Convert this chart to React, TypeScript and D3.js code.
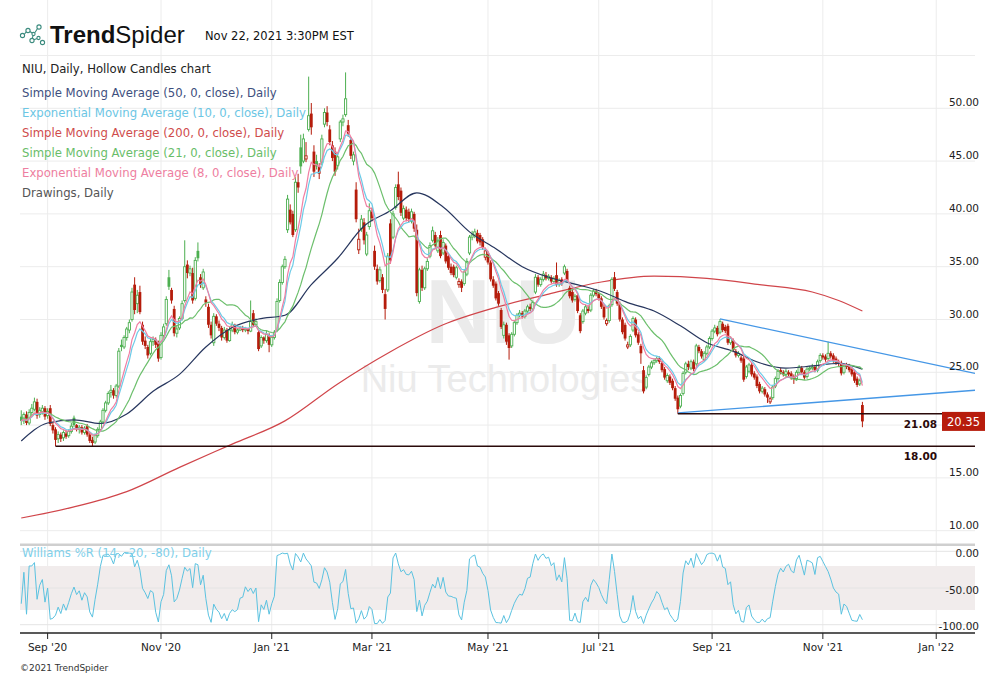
import React from "react";
import * as d3 from "d3";

// ---------- DATA ----------
const START_DATE = "2020-08-18";
const HOLIDAYS = ["2020-09-07","2020-11-26","2020-12-25","2021-01-01","2021-01-18","2021-02-15","2021-04-02","2021-05-31","2021-07-05","2021-09-06","2021-11-25","2021-12-24","2022-01-17"];

const opens = [
20.8,20.4,21.0,20.2,21.2,21.5,22.2,21.0,21.3,21.6,
20.9,21.6,20.0,19.6,18.7,19.1,18.8,19.2,19.0,19.4,
20.7,20.0,19.6,19.8,19.3,19.9,19.1,18.6,18.4,19.0,
19.6,20.3,21.4,22.1,23.1,23.3,22.8,23.7,27.6,27.4,
28.3,29.0,30.0,33.3,31.5,32.6,29.5,28.0,27.4,26.8,
27.9,28.1,27.8,26.4,28.5,29.6,34.0,32.8,31.0,28.7,
29.2,30.1,31.8,35.2,34.4,34.4,32.0,36.5,34.0,33.0,
31.9,31.2,29.5,27.8,30.3,29.6,29.2,28.3,29.0,28.0,
29.0,29.5,28.8,29.0,29.2,29.0,29.1,28.9,30.6,29.5,
28.8,27.5,28.3,28.0,28.5,27.6,28.3,29.0,31.8,33.5,
35.0,38.5,40.4,40.0,38.5,43.0,46.3,45.0,45.2,48.0,
49.5,45.9,45.0,44.5,44.9,48.5,49.6,48.0,46.5,45.9,
44.6,47.1,48.7,49.4,48.4,47.0,45.0,42.3,36.6,38.6,
39.2,36.2,38.8,40.2,36.5,34.8,33.7,34.0,32.4,32.8,
39.1,37.8,40.6,42.8,42.2,39.6,40.4,40.2,39.3,40.0,
38.5,31.7,34.7,33.0,34.8,36.0,37.5,38.0,36.5,38.0,
36.3,37.0,36.0,35.0,35.0,34.0,33.3,33.6,33.4,34.3,
36.3,37.8,38.0,38.2,38.0,37.6,35.9,36.2,35.4,33.8,
33.4,32.5,30.9,28.5,29.5,28.5,27.5,28.6,29.7,30.4,
30.6,30.3,30.8,31.2,31.0,32.6,34.0,33.3,33.8,34.2,
33.9,34.0,33.6,34.2,33.3,33.8,34.4,34.6,33.0,32.6,
31.9,32.3,30.4,29.8,30.6,31.0,30.9,32.3,32.7,32.4,
32.0,31.2,29.6,29.9,31.4,34.0,32.6,31.5,30.0,29.5,
27.4,27.6,29.0,30.0,28.6,27.5,25.2,23.6,24.8,25.5,
25.9,26.1,26.3,25.9,25.3,24.2,24.6,24.2,23.5,22.6,
21.8,23.0,25.0,25.8,25.4,26.0,25.8,27.4,27.0,26.2,
26.8,27.4,28.2,28.9,29.2,28.8,29.6,29.3,29.4,27.8,
28.0,27.0,26.6,26.4,26.3,24.6,25.1,25.7,24.9,24.6,
23.9,23.2,23.4,22.9,22.2,22.6,23.7,24.4,25.2,25.0,
24.8,25.0,24.9,24.6,24.4,25.0,25.4,25.0,24.6,25.3,
25.4,25.5,25.2,26.1,26.6,26.5,26.3,26.8,26.6,26.3,
26.0,25.9,25.0,25.7,25.6,25.3,25.0,24.4,23.9,21.9];

const highs = [
21.4,21.2,21.3,21.5,22.0,22.6,22.5,21.7,21.9,21.8,
21.6,21.9,20.3,19.8,19.4,19.3,19.5,19.5,19.6,20.2,
20.9,20.1,20.0,20.0,19.9,20.1,19.3,18.9,19.2,19.8,
20.5,21.6,22.3,23.2,23.8,23.5,23.9,27.3,28.1,28.5,
29.3,30.0,33.0,34.0,32.8,33.2,29.8,28.4,27.6,28.2,
28.4,28.3,28.0,28.8,29.6,32.2,34.7,33.0,31.3,29.4,
30.3,31.8,37.5,35.6,35.1,34.9,35.9,37.3,34.3,34.8,
32.2,31.5,29.8,30.6,30.5,29.9,29.4,29.3,29.2,29.3,
29.8,29.6,29.2,29.4,29.4,29.3,29.2,31.8,30.9,30.1,
29.0,28.5,28.4,28.9,28.7,28.5,29.0,32.0,33.8,35.2,
36.0,41.8,40.9,40.3,43.5,43.8,47.5,47.6,46.8,53.0,
50.5,46.5,45.6,44.8,47.5,50.0,50.2,48.4,46.9,46.3,
45.8,48.9,49.4,53.4,48.9,47.3,45.9,43.0,38.6,39.9,
39.6,38.3,41.0,40.6,37.0,35.2,35.0,34.3,32.9,36.3,
39.5,40.3,42.8,44.0,42.5,40.8,40.7,40.5,40.5,40.2,
39.0,34.9,35.1,35.0,35.8,37.3,38.8,38.3,37.8,38.4,
37.6,37.2,36.3,35.3,35.2,35.1,33.9,33.8,34.7,35.8,
38.0,38.4,38.6,38.5,38.2,37.8,36.8,36.4,35.6,34.1,
33.6,32.7,31.1,29.8,29.7,28.7,28.8,29.9,30.6,30.9,
30.8,31.0,31.4,31.5,31.8,34.3,34.2,34.0,34.6,34.5,
34.3,34.2,34.1,35.4,33.9,34.0,35.2,34.8,33.2,32.8,
32.4,32.5,30.6,31.0,31.4,31.3,32.5,32.9,32.9,32.6,
32.2,31.4,30.1,31.5,34.0,34.5,32.8,31.7,30.2,29.7,
27.9,28.6,30.3,30.2,28.8,27.7,25.6,24.7,25.7,26.1,
26.3,26.5,26.5,26.1,25.5,24.9,24.8,24.4,23.7,22.8,
23.0,25.1,26.0,26.1,26.2,26.2,27.7,27.6,27.2,27.0,
27.6,28.4,29.1,29.5,29.4,30.05,29.8,29.5,29.6,28.4,
28.2,27.2,27.0,26.6,26.5,25.7,25.9,25.9,25.1,24.8,
24.1,23.7,23.6,23.1,22.7,23.8,24.6,25.3,25.4,25.2,
25.3,25.2,25.1,24.8,25.2,25.7,25.6,25.2,25.5,25.6,
25.8,25.7,26.2,26.8,26.8,26.7,27.9,27.0,26.8,26.5,
26.2,26.1,25.8,25.9,25.8,25.5,25.2,24.6,24.4,22.2];

const lows = [
20.0,20.1,20.0,20.0,20.9,21.3,20.6,20.7,21.0,20.5,
20.6,19.9,19.2,18.0,18.3,18.4,18.5,18.7,18.8,19.2,
19.8,19.4,19.2,19.1,19.1,18.9,18.3,18.0,18.2,18.8,
19.4,20.1,21.2,21.9,22.6,22.5,22.6,23.5,27.0,27.2,
28.0,28.7,29.8,30.5,30.6,30.5,27.6,27.2,26.3,26.6,
27.5,27.3,26.0,26.2,28.2,29.4,32.8,31.5,28.4,28.3,
29.0,29.9,31.6,33.9,34.1,31.5,31.8,35.5,33.0,32.8,
31.2,29.2,28.2,27.5,29.4,28.9,28.0,28.1,27.8,27.9,
28.8,28.6,28.6,28.9,28.8,28.8,28.6,28.8,29.3,29.3,
27.0,27.3,27.7,27.8,26.9,27.4,28.1,28.8,31.6,33.3,
34.8,38.2,39.0,37.8,38.3,42.0,43.8,44.8,44.9,47.8,
47.5,43.5,44.2,43.3,44.6,48.2,48.3,46.5,45.0,43.6,
44.2,46.8,48.3,49.2,47.3,45.2,44.6,39.2,36.2,38.3,
37.1,36.0,38.5,39.3,34.7,33.3,33.5,32.5,30.0,32.6,
35.3,37.6,40.4,41.3,39.8,39.4,39.3,39.2,39.1,38.3,
32.2,31.5,32.7,32.8,34.6,35.8,37.3,36.8,36.3,35.8,
36.1,35.3,34.7,34.2,34.0,33.8,33.0,32.6,33.2,34.1,
36.1,37.5,37.7,37.2,37.0,36.6,35.6,35.2,33.6,33.0,
31.8,31.3,29.1,28.2,27.6,26.2,27.3,28.4,29.5,30.2,
30.1,30.1,30.6,30.8,30.8,32.4,33.1,33.1,33.6,33.7,
33.7,33.4,33.4,33.1,33.1,33.2,34.2,33.5,32.0,31.6,
31.7,30.6,28.7,29.6,30.4,30.6,30.7,32.1,32.2,31.8,
31.0,30.0,29.4,29.7,31.2,32.7,31.3,29.8,28.6,28.0,
27.2,27.4,28.8,28.3,27.6,25.8,23.0,23.4,24.6,25.3,
25.7,25.9,25.8,25.0,24.3,24.0,23.8,23.3,22.3,21.08,
21.6,22.8,24.8,25.2,25.2,25.1,25.6,26.8,26.3,26.0,
26.6,27.2,28.0,28.7,28.4,28.6,28.8,28.7,27.6,27.6,
26.9,26.4,26.4,25.9,24.1,24.4,24.9,24.6,24.3,23.5,
23.0,23.0,22.7,22.1,22.0,22.4,23.5,24.2,24.8,24.6,
24.6,24.6,24.3,23.9,24.2,24.8,24.8,24.3,24.4,25.1,
25.2,25.0,25.0,25.9,26.2,26.0,26.1,26.3,25.9,25.7,
25.6,24.7,24.8,25.3,25.0,24.6,24.0,23.6,23.7,19.8];

const closes = [
20.4,21.0,20.2,21.2,21.6,22.2,20.9,21.4,21.6,20.8,
21.3,20.1,19.5,18.6,19.1,18.7,19.3,18.9,19.4,19.9,
20.0,19.6,19.8,19.3,19.7,19.1,18.5,18.3,19.0,19.6,
20.3,21.4,22.1,23.0,23.3,22.8,23.7,27.0,27.4,28.3,
29.1,29.7,32.6,30.9,32.3,30.7,27.9,27.5,26.6,27.9,
28.1,27.6,26.3,28.5,29.3,31.9,33.1,31.8,28.7,29.1,
30.1,31.5,35.0,34.4,34.8,31.8,35.6,35.8,33.3,34.5,
31.6,29.5,28.5,30.3,29.6,29.2,28.3,29.0,28.0,29.0,
29.5,28.8,29.0,29.2,29.0,29.1,28.9,29.8,29.5,29.8,
27.2,28.3,28.0,28.6,27.6,28.3,28.8,31.7,33.5,35.0,
35.7,41.4,39.2,38.0,43.0,42.5,44.5,47.1,45.5,49.3,
48.2,44.0,44.5,43.8,47.1,49.6,48.7,46.8,45.3,44.0,
45.4,48.7,49.0,50.9,47.6,45.5,45.6,39.5,37.6,39.5,
37.5,38.0,40.3,39.6,35.0,33.6,34.7,32.8,31.0,36.0,
35.6,40.0,42.5,41.6,40.1,40.5,39.6,39.5,40.2,38.6,
32.5,34.7,33.0,34.8,35.5,37.0,38.4,37.0,37.5,36.0,
37.3,35.5,34.9,34.4,34.2,34.9,33.6,33.0,34.5,35.5,
37.8,38.0,38.3,37.4,37.3,36.8,36.5,35.4,33.8,33.2,
32.0,31.5,29.3,29.5,27.9,27.3,28.6,29.7,30.4,30.6,
30.3,30.8,31.2,31.0,31.6,34.0,33.3,33.8,34.3,33.9,
34.1,33.6,33.9,33.3,33.7,33.4,35.0,33.7,32.2,31.8,
32.2,30.8,28.9,30.8,31.2,30.8,32.3,32.7,32.4,32.0,
31.2,30.2,29.9,31.3,33.8,32.9,31.5,30.0,28.8,28.2,
27.6,28.4,30.1,28.5,27.8,26.8,23.2,24.5,25.5,25.9,
26.1,26.3,26.0,25.2,24.5,24.7,24.0,23.5,22.5,21.5,
22.8,24.9,25.8,25.5,26.0,25.3,27.5,27.0,26.5,26.8,
27.4,28.2,28.9,29.2,28.6,29.8,29.0,28.9,27.8,28.2,
27.1,26.6,26.8,26.1,24.3,25.5,25.7,24.8,24.5,23.7,
23.2,23.5,22.9,22.6,22.5,23.6,24.4,25.1,25.0,24.8,
25.1,24.8,24.5,24.4,25.0,25.5,25.0,24.5,25.3,25.4,
25.5,25.2,26.0,26.6,26.4,26.2,26.8,26.5,26.1,25.9,
25.8,24.9,25.6,25.5,25.2,24.8,24.2,23.8,24.2,20.35];

// 50-day and 200-day SMA (bar index -> value)
const sma50Bars = [0,10,20,30,40,50,60,70,80,90,100,110,120,130,140,150,160,170,180,190,200,210,220,230,240,250,260,270,280,290,300,310,319];
const sma50Values = [18.5,20.2,20.5,20.15,21.05,23.2,24.8,27.4,29.25,30.05,30.4,33.3,35.8,38.85,40.3,42.0,40.65,38.3,36.7,35.0,34.0,33.35,32.65,31.6,30.8,29.4,27.8,27.0,25.9,25.4,25.6,25.85,25.3];
const sma200Bars = [0,20,40,60,80,100,120,140,160,180,200,220,240,260,280,300,310,319];
const sma200Values = [11.2,12.25,13.7,16.0,18.2,20.4,23.9,26.95,29.5,31.15,32.4,33.55,34.1,33.9,33.3,32.6,31.8,30.8];

// drawings (bar index, price)
const upperTrendBars = [265, 361.7];
const upperTrendValues = [30.05, 24.9];
const lowerTrendBars = [249, 361.7];
const lowerTrendValues = [21.15, 23.3];
const hLineBars = [13, 249];
const hLineValues = [18.0, 21.08];
const hLineLabels = ["18.00", "21.08"];
const lastPriceLabel = "20.35";

const priceGrid = [10, 15, 20, 25, 30, 35, 40, 45, 50, 55];
const priceLabels = [10, 15, 25, 30, 35, 40, 45, 50];
const wrGrid = [0, -50, -100];
const wrLabels = ["0.00", "-50.00", "-100.00"];

const legendItems = [
  { text: "Simple Moving Average (50, 0, close), Daily", color: "#3e4f7e" },
  { text: "Exponential Moving Average (10, 0, close), Daily", color: "#6cc6e4" },
  { text: "Simple Moving Average (200, 0, close), Daily", color: "#cf4c4c" },
  { text: "Simple Moving Average (21, 0, close), Daily", color: "#69bd69" },
  { text: "Exponential Moving Average (8, 0, close), Daily", color: "#ee7ea0" },
  { text: "Drawings, Daily", color: "#555555" },
];

// ---------- HELPERS ----------
const GREEN = "#4caf50";
const RED = "#b51c0b";
const FONT = "DejaVu Sans, Verdana, sans-serif";

function buildDates(count: number) {
  const hol = new Set(HOLIDAYS);
  const fmt = d3.timeFormat("%Y-%m-%d");
  const d = d3.timeParse("%Y-%m-%d")(START_DATE) as Date;
  const out: Date[] = [];
  while (out.length < count) {
    const dow = d.getDay();
    if (dow !== 0 && dow !== 6 && !hol.has(fmt(d))) out.push(new Date(d));
    d.setDate(d.getDate() + 1);
  }
  return out;
}
function ema(vals: number[], p: number) {
  const k = 2 / (p + 1);
  let e = vals[0];
  return vals.map((v, i) => (i === 0 ? e : (e = v * k + e * (1 - k))));
}
function sma(vals: number[], p: number) {
  return vals.map((_, i) => d3.mean(vals.slice(Math.max(0, i - p + 1), i + 1)) as number);
}

export default function App() {
  const n = closes.length;
  const L = 20, R = 975;
  const x = d3.scaleLinear().domain([0, n - 1]).range([21.25, 862.4]);
  const y = d3.scaleLinear().domain([10, 50]).range([530.7, 108.3]);
  const yR = d3.scaleLinear().domain([-100, 0]).range([624.7, 551.3]);
  const rightBar = x.invert(R);

  const dates = buildDates(Math.ceil(rightBar) + 2);
  const tickFmt = d3.timeFormat("%b '%y");
  const ticks: { i: number; label: string }[] = [];
  for (let i = 1; i < dates.length; i++) {
    const m = dates[i].getMonth();
    if (m !== dates[i - 1].getMonth() && m % 2 === 0 && x(i) <= R) ticks.push({ i, label: tickFmt(dates[i]) });
  }

  const e8 = ema(closes, 8), e10 = ema(closes, 10), s21 = sma(closes, 21);
  const wr = closes.map((c, i) => {
    const s = Math.max(0, i - 13);
    const hh = d3.max(highs.slice(s, i + 1)) as number;
    const ll = d3.min(lows.slice(s, i + 1)) as number;
    return hh === ll ? -50 : ((hh - c) / (hh - ll)) * -100;
  });

  const line = d3.line<[number, number]>().x(d => x(d[0])).y(d => y(d[1]));
  const smooth = d3.line<[number, number]>().x(d => x(d[0])).y(d => y(d[1])).curve(d3.curveMonotoneX);
  const series = (vals: number[]) => vals.map((v, i) => [i, v] as [number, number]);
  const wrLine = d3.line<number>().x((_, i) => x(i)).y(v => yR(v));

  const trend = (bars: number[], vals: number[]) => {
    const slope = (vals[1] - vals[0]) / (bars[1] - bars[0]);
    return line([[bars[0], vals[0]], [rightBar, vals[0] + slope * (rightBar - bars[0])]]);
  };

  return (
    <svg width={1005} height={678} style={{ position: "absolute", left: 0, top: 0, background: "#fff" }} fontFamily={FONT}>
      <defs>
        <clipPath id="pclip"><rect x={L} y={0} width={R - L} height={543} /></clipPath>
        <clipPath id="wclip"><rect x={L} y={547} width={R - L} height={85} /></clipPath>
      </defs>
      <rect width={1005} height={678} fill="#fff" />
      {/* grid */}
      {ticks.map(t => (
        <line key={"vg" + t.i} x1={x(t.i)} x2={x(t.i)} y1={0} y2={633} stroke="#ececec" strokeWidth={1} />
      ))}
      {priceGrid.map(v => (
        <line key={"hg" + v} x1={L} x2={R} y1={y(v)} y2={y(v)} stroke="#ececec" strokeWidth={1} />
      ))}
      {/* watermark */}
      <text x={503} y={343} textAnchor="middle" fontFamily="Liberation Sans, Arial, sans-serif" fontWeight="bold" fontSize={90} fill="#ebebeb">NIU</text>
      <text x={505} y={392} textAnchor="middle" fontFamily="Liberation Sans, Arial, sans-serif" fontSize={38} fill="#ebebeb">Niu Technologies</text>

      <g clipPath="url(#pclip)">
        <path d={smooth(sma200Bars.map((b, k) => [b, sma200Values[k]] as [number, number])) || ""} fill="none" stroke="#d0454a" strokeWidth={1.2} />
        {/* candles */}
        {closes.map((c, i) => {
          const o = opens[i];
          const col = i === 0 || c >= closes[i - 1] ? GREEN : RED;
          const hollow = c > o;
          const top = y(Math.max(o, c));
          const bot = y(Math.min(o, c));
          const h = Math.max(1, bot - top);
          const cx = x(i);
          return (
            <g key={"c" + i}>
              <line x1={cx} x2={cx} y1={y(highs[i])} y2={y(lows[i])} stroke={col} strokeWidth={1} />
              {hollow ? (
                <rect x={cx - 1.1} y={top} width={2.2} height={h} fill="#fff" stroke={col} strokeWidth={0.9} />
              ) : (
                <rect x={cx - 1.4} y={top} width={2.8} height={h} fill={col} />
              )}
            </g>
          );
        })}
        <path d={smooth(sma50Bars.map((b, k) => [b, sma50Values[k]] as [number, number])) || ""} fill="none" stroke="#27365e" strokeWidth={1.2} />
        <path d={line(series(s21)) || ""} fill="none" stroke="#6cbf6c" strokeWidth={1.2} />
        <path d={line(series(e10)) || ""} fill="none" stroke="#6ccbe8" strokeWidth={1.2} />
        <path d={line(series(e8)) || ""} fill="none" stroke="#f07fa3" strokeWidth={1.2} />
        {/* drawings */}
        <path d={trend(upperTrendBars, upperTrendValues) || ""} stroke="#4597e6" strokeWidth={1.3} fill="none" />
        <path d={trend(lowerTrendBars, lowerTrendValues) || ""} stroke="#4597e6" strokeWidth={1.3} fill="none" />
        {hLineValues.map((v, k) => (
          <line key={"hl" + k} x1={x(hLineBars[k])} x2={R} y1={y(v)} y2={y(v)} stroke="#2a0a0a" strokeWidth={1.4} />
        ))}
      </g>
      {hLineValues.map((v, k) => (
        <text key={"hlt" + k} x={937} y={y(v) + 10} dominantBaseline="central" textAnchor="end" fontWeight="bold" fontSize={10.5} fill="#2a0a0a">{hLineLabels[k]}</text>
      ))}
      {/* price axis labels */}
      {priceLabels.map(v => (
        <text key={"pl" + v} x={979} y={y(v) - 2} textAnchor="end" fontSize={10.5} fill="#222">{v.toFixed(2)}</text>
      ))}
      <rect x={942} y={y(closes[n - 1]) - 9.5} width={43} height={19} fill="#b71c0c" />
      <text x={963.5} y={y(closes[n - 1]) + 0.5} textAnchor="middle" dominantBaseline="central" fontSize={11.5} fill="#fff">{lastPriceLabel}</text>

      {/* separator */}
      <rect x={L} y={543.5} width={R - L} height={2.5} fill="#cfcfcf" />
      {/* Williams %R panel */}
      <rect x={L} y={yR(-20)} width={R - L} height={yR(-80) - yR(-20)} fill="#f1ecec" />
      {wrGrid.map(v => (
        <line key={"wg" + v} x1={L} x2={R} y1={yR(v)} y2={yR(v)} stroke="#e4e4e4" strokeWidth={1} />
      ))}
      <g clipPath="url(#wclip)">
        <path d={wrLine(wr) || ""} fill="none" stroke="#5bc2e0" strokeWidth={1} />
      </g>
      {wrGrid.map((v, k) => (
        <text key={"wl" + v} x={979} y={yR(v) + 1.5} textAnchor="end" dominantBaseline="central" fontSize={10.5} fill="#222">{wrLabels[k]}</text>
      ))}
      <text x={22} y={553} dominantBaseline="central" fontSize={11.7} fill="#7fd0ea">Williams %R (14, -20, -80), Daily</text>

      {/* x axis */}
      <line x1={L} x2={R} y1={633} y2={633} stroke="#222" strokeWidth={1.5} />
      {ticks.map(t => (
        <g key={"xt" + t.i}>
          <line x1={x(t.i)} x2={x(t.i)} y1={633} y2={639} stroke="#222" strokeWidth={1} />
          <text x={x(t.i)} y={647} textAnchor="middle" dominantBaseline="central" fontSize={10.5} fill="#222">{t.label}</text>
        </g>
      ))}
      <text x={20} y={668} dominantBaseline="central" fontSize={9} fill="#333">©2021 TrendSpider</text>

      {/* header */}
      <g stroke="#3b8b7e" strokeWidth={1.1} fill="none">
        <circle cx={22.5} cy={35.5} r={2.1} />
        <circle cx={28} cy={30.5} r={2.1} />
        <circle cx={33.5} cy={34} r={1.6} />
        <circle cx={39} cy={27} r={2.1} />
        <circle cx={32} cy={40.5} r={2.1} />
        <circle cx={38.5} cy={38} r={1.6} />
        <circle cx={42.5} cy={42.5} r={2.1} />
        <line x1={24.5} y1={34} x2={26.3} y2={31.8} />
        <line x1={30} y1={31.5} x2={32} y2={33} />
        <line x1={35} y1={32.5} x2={37.5} y2={28.5} />
        <line x1={33} y1={35.5} x2={32.3} y2={38.4} />
        <line x1={34} y1={39.8} x2={37} y2={38.5} />
      </g>
      <text x={50} y={43} fontFamily="Liberation Sans, Arial, sans-serif" fontSize={24} fill="#111">
        <tspan fontWeight="bold">Trend</tspan><tspan>Spider</tspan>
      </text>
      <text x={205} y={35.5} dominantBaseline="central" fontSize={11.5} fill="#111">Nov 22, 2021 3:30PM EST</text>
      <text x={22} y={69} dominantBaseline="central" fontSize={11.7} fill="#222">NIU, Daily, Hollow Candles chart</text>
      {legendItems.map((it, k) => (
        <text key={"lg" + k} x={22} y={93 + k * 20} dominantBaseline="central" fontSize={11.7} fill={it.color}>{it.text}</text>
      ))}
    </svg>
  );
}
